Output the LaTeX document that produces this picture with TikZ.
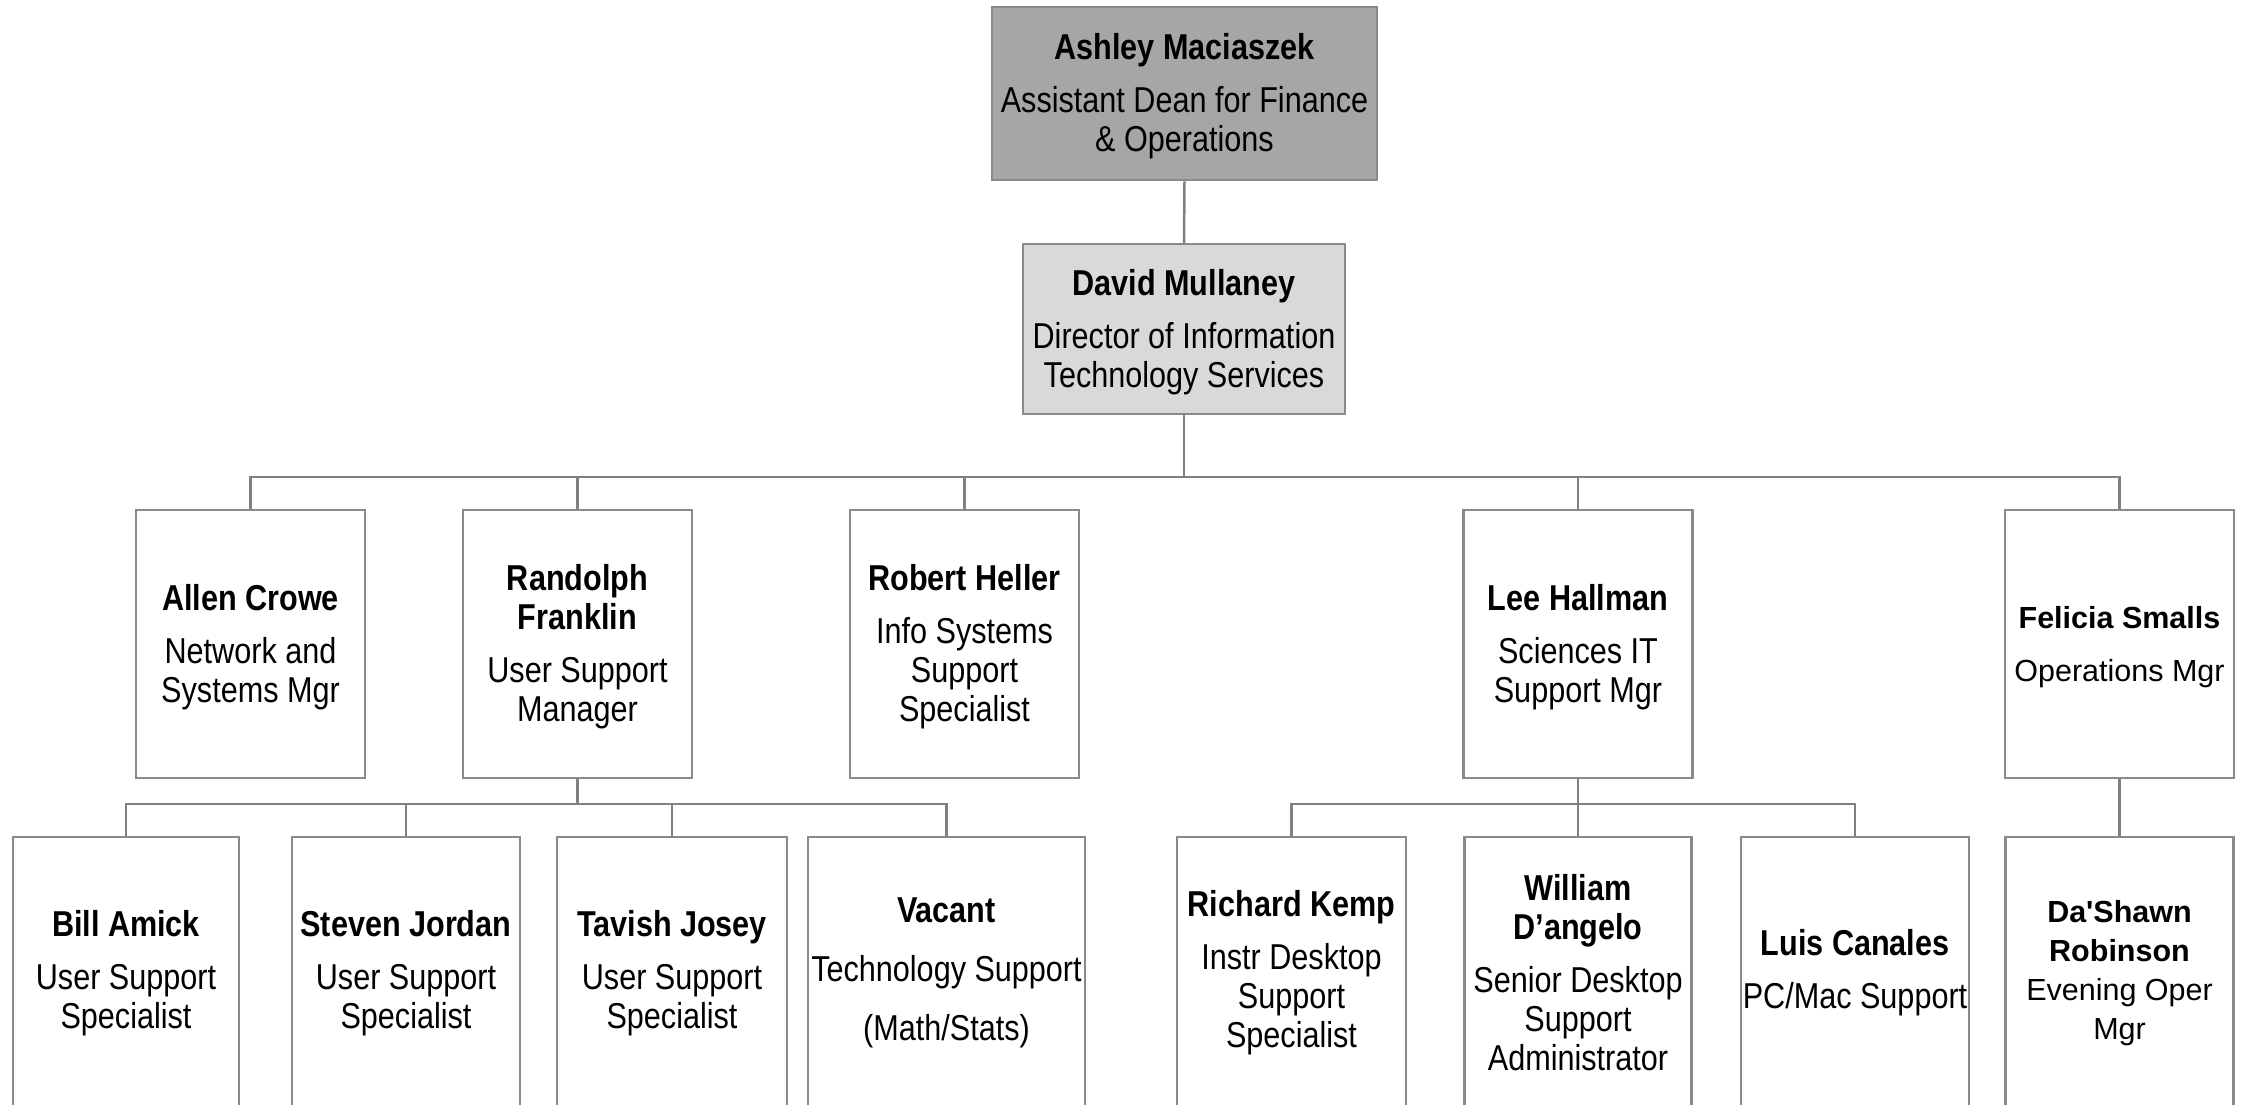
\documentclass[tikz,border=0pt]{standalone}
\usepackage{fontspec}
\setmainfont{Liberation Sans}
\newfontfamily\narrowfont[FakeStretch=0.85]{Liberation Sans}
\newfontfamily\widefont{Liberation Sans}
\newcommand\liftn{\rule{0pt}{32pt}}
\newcommand\liftw{\rule{0pt}{28pt}}
\definecolor{boxline}{HTML}{8A8A8A}
\definecolor{conline}{HTML}{808080}
\definecolor{deanfill}{HTML}{A6A6A6}
\definecolor{dirfill}{HTML}{D9D9D9}
\tikzset{
  person/.style={draw=boxline, line width=2.5pt, fill=white, inner sep=0pt,
    align=center, text=black, font=\narrowfont\fontsize{36}{39}\selectfont},
  personwide/.style={person, font=\widefont\fontsize{30.5}{39}\selectfont},
  lvltwo/.style={person, minimum width=229pt, minimum height=268pt},
  lvlthree/.style={person, minimum height=272pt},
  conn/.style={draw=conline, line width=2.5pt}
}
\begin{document}
\begin{tikzpicture}[x=1pt,y=-1pt]
\useasboundingbox (0,0) rectangle (2247,1104);
% top levels
\node[person, fill=deanfill, minimum width=385pt, minimum height=173pt] (dean) at (1184.5,93.5)
  {\liftn\bfseries Ashley Maciaszek\\[14pt]Assistant Dean for Finance\\\& Operations};
\node[person, fill=dirfill, minimum width=322pt, minimum height=170pt] (dir) at (1184,329)
  {\liftn\bfseries David Mullaney\\[14pt]Director of Information\\Technology Services};
% level 2
\node[lvltwo] (allen) at (250.5,644) {\liftn\bfseries Allen Crowe\\[14pt]Network and\\Systems Mgr};
\node[lvltwo] (rand) at (577.5,644) {\liftn\bfseries Randolph\\\bfseries Franklin\\[14pt]User Support\\Manager};
\node[lvltwo] (heller) at (964.5,644) {\liftn\bfseries Robert Heller\\[14pt]Info Systems\\Support\\Specialist};
\node[lvltwo] (lee) at (1578,644) {\liftn\bfseries Lee Hallman\\[14pt]Sciences IT\\Support Mgr};
\node[lvltwo, personwide] (felicia) at (2119.5,644) {\liftw\bfseries Felicia Smalls\\[14pt]Operations Mgr};
% level 3 (boxes run past the lower edge of the picture)
\node[lvlthree, minimum width=226pt] (bill) at (126,973) {\bfseries Bill Amick\\[14pt]User Support\\Specialist};
\node[lvlthree, minimum width=228pt] (steven) at (406,973) {\bfseries Steven Jordan\\[14pt]User Support\\Specialist};
\node[lvlthree, minimum width=230pt] (tavish) at (672,973) {\bfseries Tavish Josey\\[14pt]User Support\\Specialist};
\node[lvlthree, minimum width=277pt] (vacant) at (946.5,973) {\bfseries Vacant\\[20pt]Technology Support\\[20pt](Math/Stats)};
\node[lvlthree, minimum width=229pt] (kemp) at (1291.5,973) {\bfseries Richard Kemp\\[14pt]Instr Desktop\\Support\\Specialist};
\node[lvlthree, minimum width=227pt] (william) at (1578,973) {\bfseries William\\\bfseries D’angelo\\[14pt]Senior Desktop\\Support\\Administrator};
\node[lvlthree, minimum width=228pt] (luis) at (1855,973) {\bfseries Luis Canales\\[14pt]PC/Mac Support};
\node[lvlthree, personwide, minimum width=228pt] (dashawn) at (2119.5,973) {\bfseries Da'Shawn\\\bfseries Robinson\\Evening Oper\\Mgr};
% connectors
\coordinate (busa) at (1184,477);
\coordinate (busb) at (577.5,804);
\coordinate (busc) at (1578,804);
\draw[conn] (dean.south) -- (dir.north);
\draw[conn] (dir.south) -- (busa);
\draw[conn] (allen.north) -- (allen.north |- busa) -- (felicia.north |- busa) -- (felicia.north);
\draw[conn] (rand.north) -- (rand.north |- busa);
\draw[conn] (heller.north) -- (heller.north |- busa);
\draw[conn] (lee.north) -- (lee.north |- busa);
\draw[conn] (rand.south) -- (busb);
\draw[conn] (bill.north) -- (bill.north |- busb) -- (vacant.north |- busb) -- (vacant.north);
\draw[conn] (steven.north) -- (steven.north |- busb);
\draw[conn] (tavish.north) -- (tavish.north |- busb);
\draw[conn] (lee.south) -- (william.north);
\draw[conn] (kemp.north) -- (kemp.north |- busc) -- (luis.north |- busc) -- (luis.north);
\draw[conn] (felicia.south) -- (dashawn.north);
\end{tikzpicture}
\end{document}
